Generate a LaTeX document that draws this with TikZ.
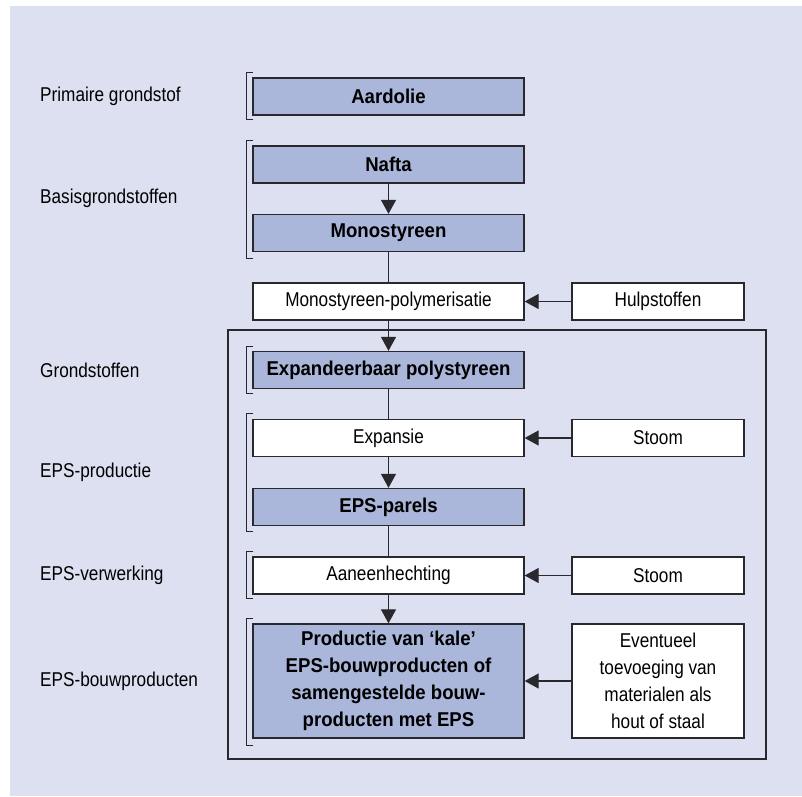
\documentclass[tikz,border=0pt]{standalone}
\usepackage{fontspec}
\setmainfont{Liberation Sans}[FakeStretch=0.86]
\newfontfamily\vetletter{Liberation Sans Bold}[FakeStretch=0.93]
\usetikzlibrary{arrows.meta}
\definecolor{achtergrond}{RGB}{221,224,240}
\definecolor{stofblauw}{RGB}{170,182,218}
\definecolor{lijn}{RGB}{40,40,45}

\begin{document}
\begin{tikzpicture}[x=1pt,y=-1pt,font=\fontsize{20}{27}\selectfont,
    stof/.style={draw=lijn,line width=1.3pt,fill=stofblauw,minimum width=271pt,minimum height=37pt,inner sep=0pt,font=\fontsize{20}{27}\vetletter},
    proces/.style={draw=lijn,line width=1.3pt,fill=white,minimum width=271pt,minimum height=37pt,inner sep=0pt},
    hulp/.style={draw=lijn,line width=1.3pt,fill=white,minimum width=172pt,minimum height=37pt,inner sep=0pt},
    fase/.style={anchor=west,inner sep=0pt},
    haak/.style={draw=lijn,line width=1pt},
    pijl/.style={-{Triangle[length=14pt,width=15pt]},draw=lijn,line width=1.2pt},
    lijntje/.style={draw=lijn,line width=1.2pt}]
                % achtergrond en kader
                \fill[white] (0,0) rectangle (802,796);
                \fill[achtergrond] (10,6) rectangle (802,796);
                \draw[lijn,line width=1.3pt] (228,330) rectangle (766,759);
                \begin{scope}[every node/.style={fase}]
                    \node (fase1) at (40,96.5) {Primaire grondstof};
                    \node (fase2) at (40,198) {Basisgrondstoffen};
                    \node (fase3) at (40,370) {Grondstoffen};
                    \node (fase4) at (40,472) {EPS-productie};
                    \node (fase5) at (40,575.5) {EPS-verwerking};
                    \node (fase6) at (40,681) {EPS-bouwproducten};
                \end{scope}
                \foreach \boven/\onder in {72/119,140/258,346/393,413/531,551/598,618/745}
                    \draw[haak] (253,\boven) -| (246,\onder) -- (253,\onder);
                \node[stof] (aardolie) at (388.5,96.5) {Aardolie};
                \node[stof] (nafta) at (388.5,164.5) {Nafta};
                \node[stof] (mono) at (388.5,233) {Monostyreen};
                \node[proces] (poly) at (388.5,301.5) {Monostyreen-polymerisatie};
                \node[hulp] (hulp) at (658,301.5) {Hulpstoffen};
                \node[stof] (eps) at (388.5,370) {Expandeerbaar polystyreen};
                \node[proces] (expansie) at (388.5,438) {Expansie};
                \node[hulp] (stoom1) at (658,438) {Stoom};
                \node[stof] (parels) at (388.5,507) {EPS-parels};
                \node[proces] (hecht) at (388.5,575.5) {Aaneenhechting};
                \node[hulp] (stoom2) at (658,575.5) {Stoom};
                \node[stof,minimum height=114pt,align=center] (product) at (388.5,681)
                    {Productie van ‘kale’\\EPS-bouwproducten of\\samengestelde bouw-\\producten met EPS};
                \node[hulp,minimum height=114pt,align=center] (extra) at (658,681)
                    {Eventueel\\toevoeging van\\materialen als\\hout of staal};
                \draw (nafta) edge[pijl] (mono);
                \draw (mono) edge[lijntje] (poly);
                \draw (poly) edge[pijl] (eps);
                \draw (hulp) edge[pijl] (poly);
                \draw (eps) edge[lijntje] (expansie);
                \draw (stoom1) edge[pijl] (expansie);
                \draw (expansie) edge[pijl] (parels);
                \draw (parels) edge[lijntje] (hecht);
                \draw (stoom2) edge[pijl] (hecht);
                \draw (hecht) edge[pijl] (product);
                \draw (extra) edge[pijl] (product);
\end{tikzpicture}
\end{document}
